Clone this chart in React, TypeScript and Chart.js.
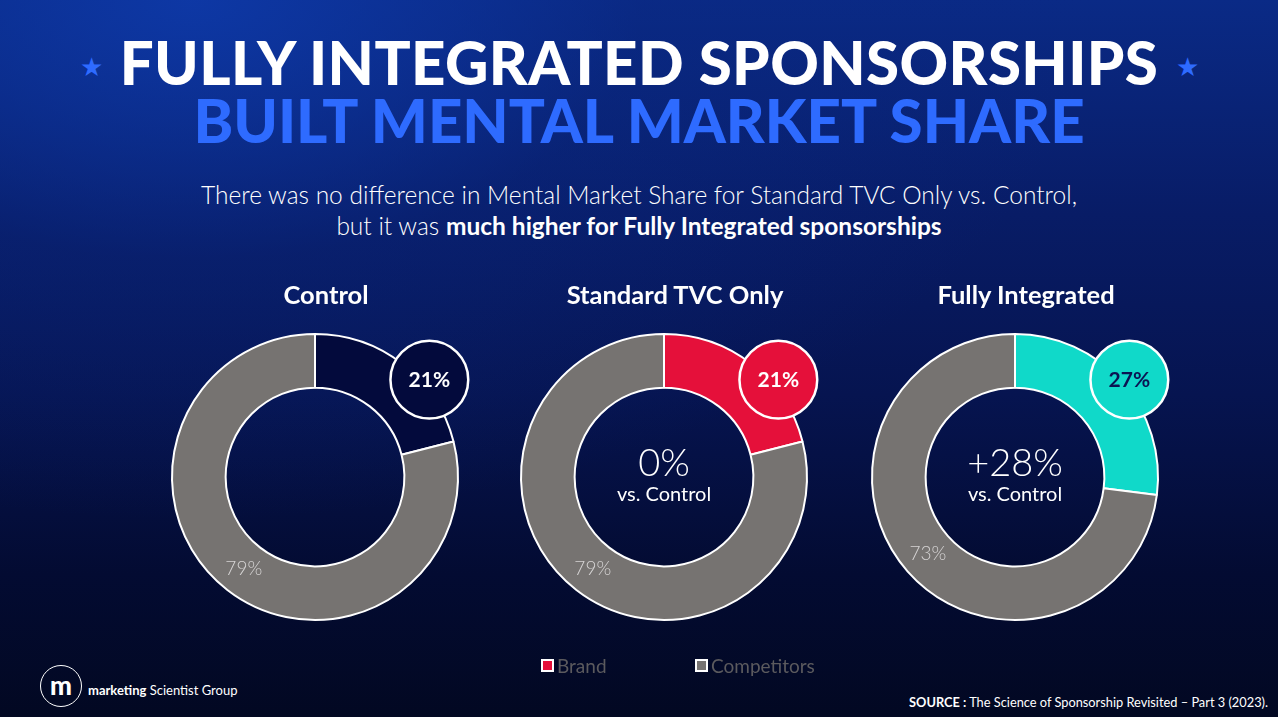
import React, { useEffect, useRef } from "react";
import { Chart, registerables } from "chart.js";

Chart.register(...registerables);

const groups = ["Control", "Standard TVC Only", "Fully Integrated"];
const seriesLabels = ["Brand", "Competitors"];
const brandShare = [21, 21, 27];
const competitorShare = [79, 79, 73];
const vsControl = ["", "0%", "+28%"];
const brandColors = ["#030a3c", "#e5103a", "#10d9c9"];
const bubbleTextColors = ["#ffffff", "#ffffff", "#0b1452"];
const competitorColor = "#767371";
const legendColors = ["#e5103a", "#767371"];

const FONT = "Lato, 'Open Sans', sans-serif";
const CENTERS_X = [315, 664, 1015];
const CENTER_Y = 477;
const CANVAS = 400;

const donutPlugin = {
  id: "donutLabels",
  afterDatasetsDraw(chart: any, _args: any, opts: any) {
    const meta = chart.getDatasetMeta(0);
    const arc0 = meta.data[0];
    const arc1 = meta.data[1];
    const { x, y, outerRadius } = arc0.getProps(["x", "y", "outerRadius"], true);
    const ctx = chart.ctx;
    const ds = chart.data.datasets[0];
    ctx.save();
    // competitor label at slice centroid
    const p = arc1.tooltipPosition(true);
    ctx.font = `300 19px ${FONT}`;
    ctx.fillStyle = "#d6d4d4";
    ctx.textAlign = "center";
    ctx.textBaseline = "middle";
    ctx.fillText(`${ds.data[1]}%`, p.x, p.y);
    // bubble
    const a = (opts.bubbleAngle * Math.PI) / 180;
    const r = outerRadius * 1.05;
    const bx = x + r * Math.sin(a);
    const by = y - r * Math.cos(a);
    const br = outerRadius * 0.272;
    ctx.beginPath();
    ctx.arc(bx, by, br, 0, Math.PI * 2);
    ctx.fillStyle = ds.backgroundColor[0];
    ctx.fill();
    ctx.lineWidth = 2.5;
    ctx.strokeStyle = "#ffffff";
    ctx.stroke();
    ctx.fillStyle = opts.bubbleText;
    ctx.font = `700 21px ${FONT}`;
    ctx.fillText(`${ds.data[0]}%`, bx, by + 1);
    // center text
    if (opts.center) {
      ctx.fillStyle = "#ffffff";
      ctx.font = `300 38px ${FONT}`;
      ctx.fillText(opts.center, x, y - 13);
      ctx.font = `400 20px ${FONT}`;
      ctx.fillText("vs. Control", x, y + 18);
    }
    ctx.restore();
  },
};

function Donut({ i }: { i: number }) {
  const ref = useRef<HTMLCanvasElement>(null);
  useEffect(() => {
    const chart = new Chart(ref.current as HTMLCanvasElement, {
      type: "doughnut",
      data: {
        labels: seriesLabels,
        datasets: [
          {
            data: [brandShare[i], competitorShare[i]],
            backgroundColor: [brandColors[i], competitorColor],
            borderColor: "#ffffff",
            borderWidth: 2,
          },
        ],
      },
      options: {
        responsive: false,
        animation: false,
        events: [],
        cutout: "62.5%",
        layout: { padding: 56 },
        plugins: {
          legend: { display: false },
          tooltip: { enabled: false },
          donutLabels: { bubbleAngle: 49.6, bubbleText: bubbleTextColors[i], center: vsControl[i] },
        } as any,
      },
      plugins: [donutPlugin],
    });
    return () => chart.destroy();
  }, [i]);
  return (
    <canvas
      ref={ref}
      width={CANVAS}
      height={CANVAS}
      style={{ position: "absolute", left: CENTERS_X[i] - CANVAS / 2, top: CENTER_Y - CANVAS / 2, width: CANVAS, height: CANVAS }}
    />
  );
}

export default function App() {
  useEffect(() => {
    document.body.style.margin = "0";
  }, []);
  const abs = (s: any) => ({ position: "absolute" as const, ...s });
  return (
    <div
      style={{
        position: "fixed",
        left: 0,
        top: 0,
        width: 1278,
        height: 717,
        overflow: "hidden",
        fontFamily: FONT,
        background:
          "radial-gradient(ellipse 900px 520px at 15% 0%, rgba(14,58,170,0.85) 0%, rgba(10,40,130,0.35) 50%, rgba(0,0,0,0) 100%), linear-gradient(180deg, #0a2a86 0%, #081c66 30%, #061450 55%, #030b32 80%, #020822 100%)",
      }}
    >
      <div style={abs({ left: 0, top: 32, width: 1278, textAlign: "center", color: "#fff", fontWeight: 900, fontSize: 60, lineHeight: "60px", letterSpacing: 0.4 })}>
        FULLY INTEGRATED SPONSORSHIPS
      </div>
      <div style={abs({ left: 0, top: 90, width: 1278, textAlign: "center", color: "#2e6bff", fontWeight: 900, fontSize: 60, lineHeight: "60px" })}>
        BUILT MENTAL MARKET SHARE
      </div>
      <div style={abs({ left: 80, top: 50, color: "#2e6bff", fontSize: 26 })}>★</div>
      <div style={abs({ left: 1176, top: 50, color: "#2e6bff", fontSize: 26 })}>★</div>
      <div style={abs({ left: 0, top: 179, width: 1278, textAlign: "center", color: "#fff", fontWeight: 300, fontSize: 24.5, lineHeight: "31px" })}>
        There was no difference in Mental Market Share for Standard TVC Only vs. Control,
        <br />
        but it was <b style={{ fontWeight: 700 }}>much higher for Fully Integrated sponsorships</b>
      </div>
      {groups.map((g, i) => (
        <Donut key={g} i={i} />
      ))}
      {groups.map((g, i) => (
        <div key={"t" + g} style={abs({ left: CENTERS_X[i] + 11 - 200, top: 278, width: 400, textAlign: "center", color: "#fff", fontWeight: 700, fontSize: 25.5, lineHeight: "32px" })}>
          {g}
        </div>
      ))}
      {seriesLabels.map((s, k) => (
        <div key={s} style={abs({ left: k === 0 ? 541 : 695, top: 654, display: "flex", alignItems: "center", color: "#5b5a5e", fontSize: 19, fontWeight: 400 })}>
          <span style={{ display: "inline-block", width: 9, height: 9, border: "2px solid #fff", background: legendColors[k], marginRight: 3 }} />
          {s}
        </div>
      ))}
      <div style={abs({ left: 40, top: 665, width: 40, height: 40, borderRadius: "50%", border: "1.5px solid #fff", color: "#fff", fontWeight: 900, fontSize: 26, lineHeight: "38px", textAlign: "center" })}>
        m
      </div>
      <div style={abs({ left: 88, top: 682, color: "#fff", fontSize: 13 })}>
        <b style={{ fontWeight: 700 }}>marketing</b> Scientist Group
      </div>
      <div style={abs({ right: 10, top: 694, color: "#fff", fontSize: 12.8 })}>
        <b style={{ fontWeight: 700 }}>SOURCE :</b> The Science of Sponsorship Revisited – Part 3 (2023).
      </div>
    </div>
  );
}
